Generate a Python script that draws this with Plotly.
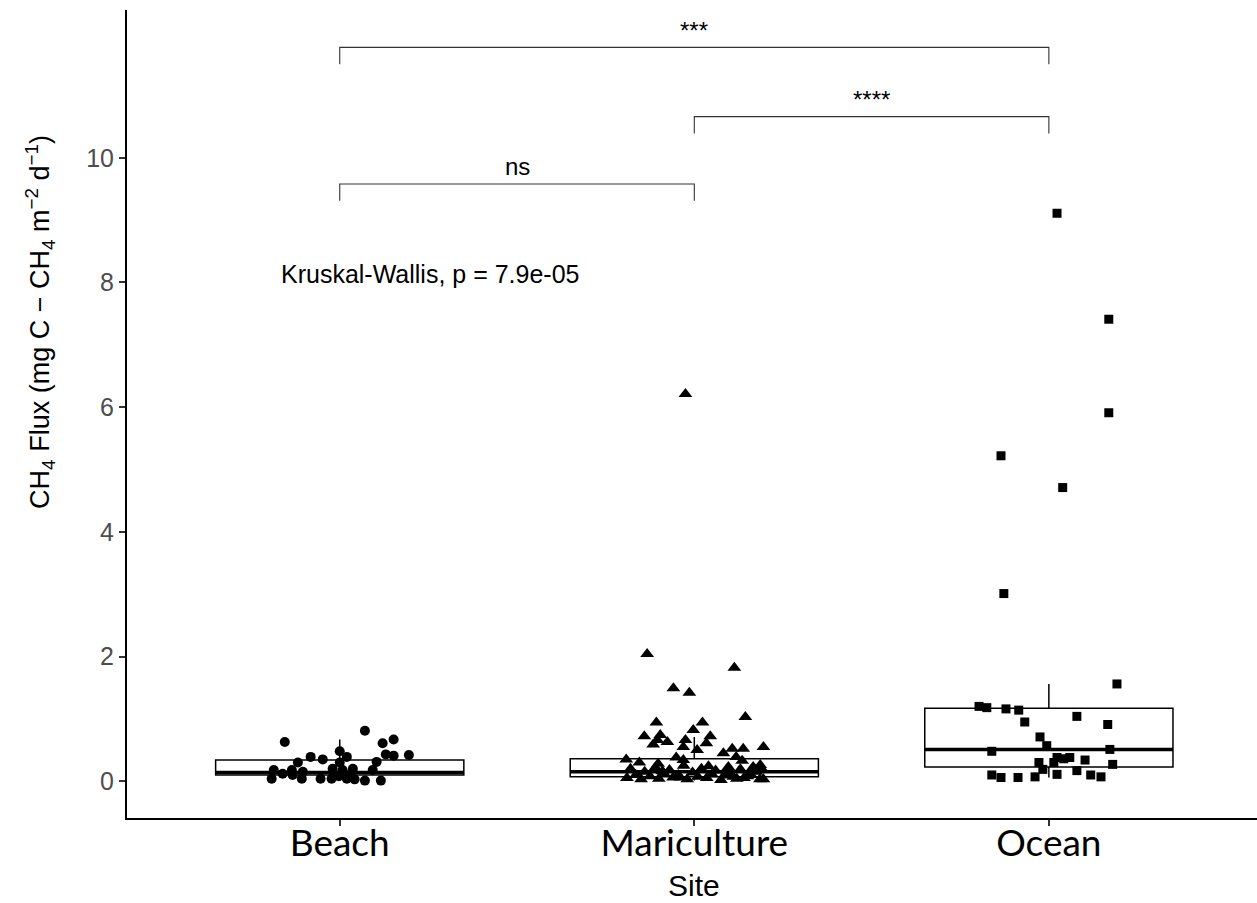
import plotly.graph_objects as go

# ---------------- data ----------------
sites = ["Beach", "Mariculture", "Ocean"]
site_pos = [1, 2, 3]

# box statistics
box_lowerfence = [0.01, 0.01, 0.06]
box_q1 = [0.10, 0.07, 0.23]
box_median = [0.14, 0.15, 0.51]
box_q3 = [0.34, 0.36, 1.17]
box_upperfence = [0.67, 0.71, 1.56]

# jittered observations: horizontal jitter offset and flux value
beach_jitter = [-0.155, 0.071, 0.121, 0.152, 0.0, 0.13, 0.152, 0.195, -0.082, -0.048, 0.02,
                -0.118, 0.0, 0.104, -0.186, -0.161, -0.135, -0.104, -0.02, 0.008, 0.037, 0.093,
                -0.192, -0.107, -0.054, -0.023, -0.003, 0.02, 0.042, 0.071, 0.116, -0.133, 0.028]
beach_flux = [0.63, 0.81, 0.61, 0.67, 0.48, 0.43, 0.41, 0.42, 0.39, 0.35, 0.39,
              0.30, 0.30, 0.31, 0.18, 0.12, 0.18, 0.15, 0.20, 0.18, 0.20, 0.18,
              0.04, 0.04, 0.04, 0.04, 0.08, 0.04, 0.03, 0.01, 0.01, 0.10, 0.10]

mari_jitter = [-0.133, 0.113, -0.059, -0.014, 0.144, -0.107, 0.023, -0.141, -0.003, 0.045,
               -0.096, -0.104, -0.116, -0.076, -0.025, -0.031, 0.034, 0.008, 0.082, 0.107,
               0.138, 0.195, 0.118, 0.135, -0.192, -0.102, -0.051, -0.031, 0.096, 0.166,
               0.186, 0.110, 0.195, -0.025,
               -0.19, -0.18, -0.165, -0.15, -0.14, -0.125, -0.11, -0.10, -0.085, -0.07,
               -0.06, -0.045, -0.03, -0.02, -0.005, 0.01, 0.02, 0.035, 0.05, 0.06,
               0.075, 0.085, 0.10, 0.12, 0.13, 0.15, 0.16, 0.175, 0.185, 0.19,
               -0.155, -0.09, -0.04, 0.04, 0.09, 0.14]
mari_flux = [2.04, 1.82, 1.49, 1.42, 1.03, 0.94, 0.94, 0.72, 0.82, 0.72,
             0.74, 0.66, 0.59, 0.63, 0.66, 0.55, 0.61, 0.50, 0.45, 0.52,
             0.52, 0.55, 0.39, 0.33, 0.35, 0.28, 0.38, 0.34, 0.23, 0.23,
             0.26, 0.07, 0.03, 6.21,
             0.05, 0.20, 0.10, 0.03, 0.15, 0.08, 0.22, 0.04, 0.12, 0.18,
             0.06, 0.10, 0.25, 0.03, 0.14, 0.07, 0.20, 0.05, 0.11, 0.17,
             0.02, 0.09, 0.13, 0.04, 0.19, 0.08, 0.10, 0.15, 0.03, 0.20,
             0.30, 0.16, 0.06, 0.24, 0.12, 0.05]

ocean_jitter = [0.023, 0.169, 0.169, -0.135, 0.039, -0.127, 0.192, -0.197, -0.175, -0.121,
                -0.085, -0.068, 0.079, 0.166, -0.025, -0.006, -0.161, 0.172, -0.028, 0.023,
                0.014, 0.042, 0.059, 0.102, 0.180, -0.017, 0.079, -0.161, -0.135, -0.087,
                -0.039, 0.023, 0.118, 0.147]
ocean_flux = [9.11, 7.41, 5.91, 5.22, 4.71, 3.01, 1.56, 1.20, 1.18, 1.16,
              1.14, 0.95, 1.04, 0.91, 0.71, 0.57, 0.48, 0.51, 0.30, 0.38,
              0.30, 0.36, 0.38, 0.34, 0.27, 0.19, 0.17, 0.10, 0.06, 0.06,
              0.07, 0.11, 0.10, 0.07]

# pairwise comparisons
comp_from = [1, 2, 1]
comp_to = [2, 3, 3]
comp_y = [9.58, 10.66, 11.77]
comp_label = ["ns", "****", "***"]

kw_text = "Kruskal-Wallis, p = 7.9e-05"
kw_x, kw_y = 0.83, 8.14

y_ticks = [0, 2, 4, 6, 8, 10]

# ---------------- figure ----------------
BOX_W = 0.7
fig = go.Figure()

for i in range(3):
    fig.add_trace(go.Box(
        x=[site_pos[i]], q1=[box_q1[i]], median=[box_median[i]], q3=[box_q3[i]],
        lowerfence=[box_lowerfence[i]], upperfence=[box_upperfence[i]],
        width=BOX_W, whiskerwidth=0, fillcolor="white", line=dict(color="black", width=1.5),
        boxpoints=False, showlegend=False, hoverinfo="skip"))
    fig.add_trace(go.Scatter(
        x=[site_pos[i] - BOX_W / 2, site_pos[i] + BOX_W / 2],
        y=[box_median[i], box_median[i]], mode="lines",
        line=dict(color="black", width=3.5), showlegend=False, hoverinfo="skip"))

groups = [(beach_jitter, beach_flux, "circle", 10),
          (mari_jitter, mari_flux, "triangle-up", 12),
          (ocean_jitter, ocean_flux, "square", 9)]
for i, (jit, flux, sym, sz) in enumerate(groups):
    fig.add_trace(go.Scatter(
        x=[site_pos[i] + j for j in jit], y=flux, mode="markers",
        marker=dict(symbol=sym, size=sz, color="black", line=dict(width=0)),
        showlegend=False))

TIP = 0.27
for a, b, yv, lab in zip(comp_from, comp_to, comp_y, comp_label):
    fig.add_trace(go.Scatter(
        x=[a, a, b, b], y=[yv - TIP, yv, yv, yv - TIP], mode="lines",
        line=dict(color="#333333", width=1.1), showlegend=False, hoverinfo="skip"))
    fig.add_annotation(x=(a + b) / 2, y=yv + 0.03, text=lab, showarrow=False,
                       xref="x", yref="y", yanchor="bottom",
                       font=dict(family="Liberation Sans, Arial", size=24, color="black"))

fig.add_annotation(x=kw_x, y=kw_y, text=kw_text, showarrow=False, xref="x", yref="y",
                   xanchor="left", yanchor="middle",
                   font=dict(family="Liberation Sans, Arial", size=25, color="black"))

fig.add_annotation(x=-0.077, y=0.614, xref="paper", yref="paper", textangle=-90,
                   text="CH<sub>4</sub> Flux (mg C \u2212 CH<sub>4</sub> m<sup>\u22122</sup> d<sup>\u22121</sup>)",
                   showarrow=False, xanchor="center", yanchor="middle",
                   font=dict(family="Liberation Sans, Arial", size=27, color="black"))
fig.add_annotation(x=2, y=-0.083, xref="x", yref="paper", text="Site", showarrow=False,
                   xanchor="center", yanchor="middle",
                   font=dict(family="Liberation Sans, Arial", size=30, color="black"))

fig.update_layout(
    width=1257, height=903,
    margin=dict(l=127, r=0, t=10, b=85),
    paper_bgcolor="white", plot_bgcolor="white",
    xaxis=dict(range=[0.4, 3.587], tickvals=site_pos, ticktext=sites,
               showgrid=False, zeroline=False, showline=True, linecolor="black", linewidth=2,
               ticks="outside", ticklen=6, tickwidth=1.5, tickcolor="#333333",
               ticklabelstandoff=-14,
               tickfont=dict(family="Lato", size=37, color="black")),
    yaxis=dict(range=[-0.59, 12.37], tickvals=y_ticks,
               showgrid=False, zeroline=False, showline=True, linecolor="black", linewidth=2,
               ticks="outside", ticklen=6, tickwidth=1.5, tickcolor="#333333",
               tickfont=dict(family="Liberation Sans, Arial", size=25, color="#4D4D4D")),
)

fig.write_html("out.html")
